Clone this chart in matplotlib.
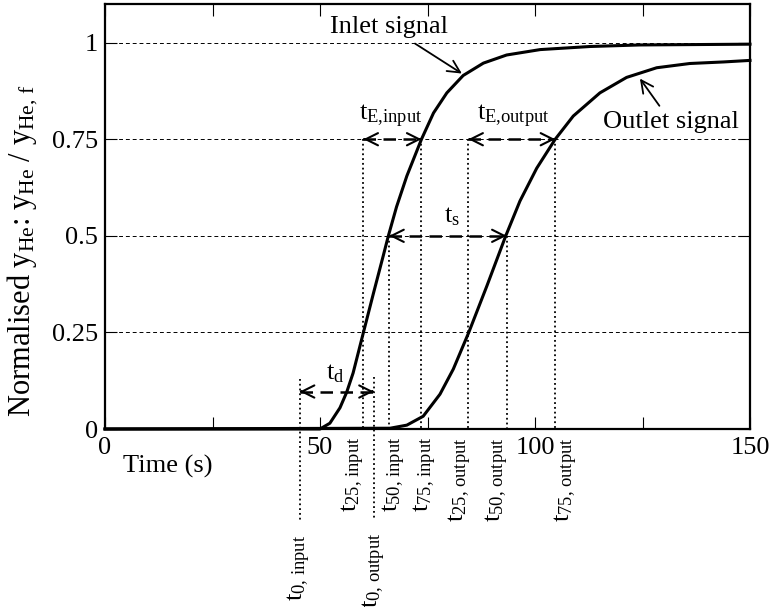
import matplotlib
matplotlib.use("Agg")
import matplotlib.pyplot as plt

plt.rcParams['font.family'] = ['Liberation Serif']
plt.rcParams['mathtext.fontset'] = 'custom'
plt.rcParams['mathtext.rm'] = 'Liberation Serif'
plt.rcParams['mathtext.it'] = 'Liberation Serif:italic'
plt.rcParams['mathtext.bf'] = 'Liberation Serif:bold'

# ---- data ----
inlet_t = [0, 50, 52.3, 54.65, 56.2, 57.7, 60.1, 62.4, 64.7, 65.9, 67.8, 70.2, 73.6, 76.4,
           79.5, 83.3, 88.0, 93.4, 101.2, 112.8, 124.4, 150]
inlet_y = [0, 0, 0.015, 0.055, 0.095, 0.145, 0.25, 0.35, 0.448, 0.5, 0.575, 0.655, 0.75, 0.818,
           0.87, 0.915, 0.947, 0.968, 0.982, 0.990, 0.994, 0.996]
outlet_t = [0, 66.3, 70.2, 74.0, 77.9, 81.0, 84.6, 88.8, 93.2, 96.5, 100.4, 104.7, 108.9,
            115.1, 121.3, 128.3, 136, 143.8, 150]
outlet_y = [0, 0.002, 0.01, 0.033, 0.09, 0.155, 0.25, 0.37, 0.5, 0.59, 0.675, 0.75, 0.81,
            0.87, 0.91, 0.935, 0.946, 0.950, 0.954]

t0_in, t25_in, t50_in, t75_in = 45.3, 60.1, 66.1, 73.6
t0_out, t25_out, t50_out, t75_out = 62.5, 84.5, 93.4, 104.7
td_level = 0.097

xticks = [0, 25, 50, 75, 100, 125, 150]
xtick_labels = ['0', '', '50', '', '100', '', '150']
yticks = [0, 0.25, 0.5, 0.75, 1]
ytick_labels = ['0', '0.25', '0.5', '0.75', '1']
grid_levels = [0.25, 0.5, 0.75, 1]

FS = 19

fig = plt.figure(figsize=(7.74, 6.07), dpi=100)
ax = fig.add_axes([105/774, 1-429/607, 645/774, 425/607])
ax.set_xlim(0, 150)
ax.set_ylim(0, 1.1)

for g in grid_levels:
    ax.axhline(g, color='black', lw=0.7, ls=(0, (4, 3)), zorder=1)

# curves
ax.plot(inlet_t, inlet_y, color='black', lw=2.2, zorder=4, clip_on=False,
        solid_joinstyle='round')
ax.plot(outlet_t, outlet_y, color='black', lw=2.2, zorder=4, clip_on=False,
        solid_joinstyle='round')

dot = dict(color='black', lw=1.3, ls=':', zorder=2, clip_on=False)
# dotted marker lines
ax.plot([t0_in, t0_in], [0.13, -0.235], **dot)
ax.plot([t0_out, t0_out], [0.135, -0.23], **dot)
ax.plot([t25_in, t25_in], [0.75, 0], **dot)
ax.plot([t50_in, t50_in], [0.5, 0], **dot)
ax.plot([t75_in, t75_in], [0.75, 0], **dot)
ax.plot([t25_out, t25_out], [0.75, 0], **dot)
ax.plot([t50_out, t50_out], [0.5, 0], **dot)
ax.plot([t75_out, t75_out], [0.75, 0], **dot)


def dbl_arrow(x1, x2, y):
    ax.plot([x1, x2], [y, y], color='black', lw=1.8, ls=(0, (5, 3)), zorder=3)
    for a, b in ((x1, x2), (x2, x1)):
        ax.annotate('', xy=(a, y), xytext=(a + (b - a) * 0.02, y),
                    arrowprops=dict(arrowstyle='->', lw=1.5, color='black',
                                    shrinkA=0, shrinkB=0, mutation_scale=22),
                    zorder=3)


dbl_arrow(t25_in, t75_in, 0.75)
dbl_arrow(t25_out, t75_out, 0.75)
dbl_arrow(t50_in, t50_out, 0.5)
dbl_arrow(t0_in, t0_out, td_level)

# arrow labels
ax.text(66.5, 0.775, r'$\mathrm{t_{E{,}input}}$', fontsize=FS, ha='center', va='bottom')
ax.text(94.9, 0.775, r'$\mathrm{t_{E{,}output}}$', fontsize=FS, ha='center', va='bottom')
ax.text(80.7, 0.52, r'$\mathrm{t_{s}}$', fontsize=FS, ha='center', va='bottom')
ax.text(53.5, 0.115, r'$\mathrm{t_{d}}$', fontsize=FS, ha='center', va='bottom')

# signal annotations
ax.annotate('Inlet signal', xy=(83.0, 0.92), xytext=(66.0, 1.041),
            fontsize=FS, ha='center', va='center',
            arrowprops=dict(arrowstyle='->', lw=1.3, color='black',
                            shrinkA=4, shrinkB=0, mutation_scale=22))
ax.annotate('Outlet signal', xy=(124.4, 0.907), xytext=(131.6, 0.795),
            fontsize=FS, ha='center', va='center',
            arrowprops=dict(arrowstyle='->', lw=1.3, color='black',
                            shrinkA=2, shrinkB=0, mutation_scale=22))

# rotated time labels below the axis
rot_labels = [
    (57.7, -0.021, r'$\mathrm{t_{25,\,input}}$'),
    (67.4, -0.021, r'$\mathrm{t_{50,\,input}}$'),
    (74.6, -0.021, r'$\mathrm{t_{75,\,input}}$'),
    (82.6, -0.021, r'$\mathrm{t_{25,\,output}}$'),
    (91.2, -0.021, r'$\mathrm{t_{50,\,output}}$'),
    (107.2, -0.021, r'$\mathrm{t_{75,\,output}}$'),
    (45.3, -0.275, r'$\mathrm{t_{0,\,input}}$'),
    (62.6, -0.268, r'$\mathrm{t_{0,\,output}}$'),
]
for x, y, s in rot_labels:
    ax.text(x, y, s, rotation=90, fontsize=FS, ha='center', va='top', clip_on=False)

ax.text(14.7, -0.098, 'Time (s)', fontsize=FS, ha='center', va='center')
fig.text(23/774, 1-251/607, r'Normalised $\mathrm{y_{He}}$: $\mathrm{y_{He}}$ / $\mathrm{y_{He,\,f}}$',
         rotation=90, fontsize=22, ha='center', va='center')

ax.set_xticks(xticks)
ax.set_xticklabels(xtick_labels)
ax.set_yticks(yticks)
ax.set_yticklabels(ytick_labels)
ax.tick_params(direction='in', length=8.5, width=0.8, labelsize=FS,
               top=True, right=True, pad=5)
ax.tick_params(axis='x', pad=6)
for s in ax.spines.values():
    s.set_linewidth(1.6)

fig.savefig('out.png', dpi=100)
